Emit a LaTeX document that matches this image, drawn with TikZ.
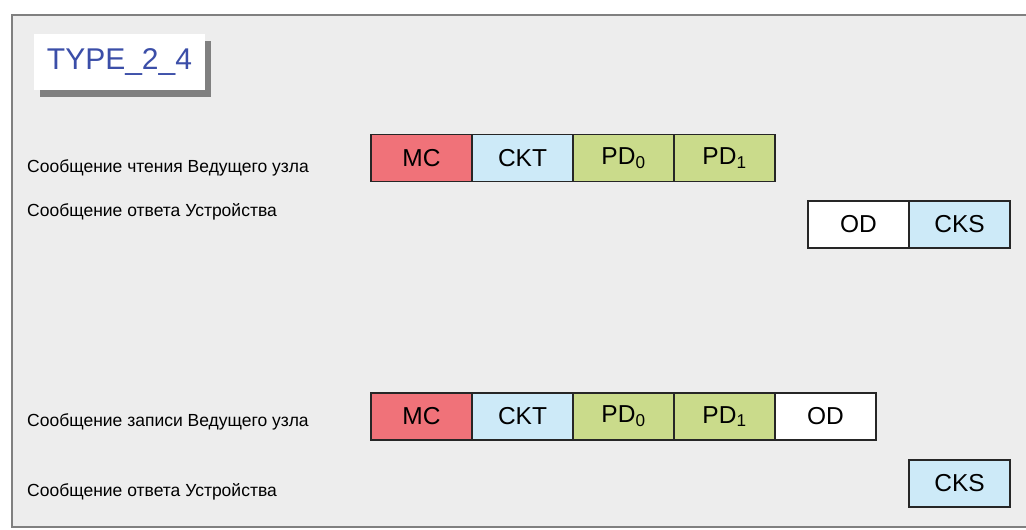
\documentclass[tikz,border=0pt]{standalone}
\usepackage{fontspec}
\setmainfont{Liberation Sans}
\usepackage{xcolor}
\usetikzlibrary{positioning,shadows}
\definecolor{mcred}{HTML}{F07279}
\definecolor{ckblue}{HTML}{CDEAF8}
\definecolor{pdgreen}{HTML}{CADB8B}
\definecolor{framebg}{HTML}{EDEDED}
\definecolor{ttlblue}{HTML}{3B4EA8}
\tikzset{
  fld/.style={draw=black!85,line width=1.4pt,outer sep=0pt,minimum width=101pt,minimum height=47pt,inner sep=0pt,font=\fontsize{24.5}{24.5}\selectfont},
  lbl/.style={anchor=base west,inner sep=0pt,font=\fontsize{17.5}{17.5}\selectfont},
  ttl/.style={fill=white,minimum width=171pt,minimum height=56pt,inner sep=0pt,text=ttlblue,font=\fontsize{30}{30}\selectfont,
    drop shadow={shadow xshift=6pt,shadow yshift=-7pt,fill=black!50,opacity=1}}
}
\begin{document}
\begin{tikzpicture}[x=1pt,y=-1pt]
\useasboundingbox (0,0) rectangle (1026,530);
\draw[black!50,line width=1.2pt,fill=framebg] (12,15) rectangle (1040,527);
\node[ttl] (title) at (119.5,62) {TYPE\_2\_4};
% read request
\node[lbl] (l1) at (27,172) {Сообщение чтения Ведущего узла};
\node[fld,fill=mcred,anchor=west] (r1mc) at (371,158) {MC};
\node[fld,fill=ckblue,right=0pt of r1mc] (r1ckt) {CKT};
\node[fld,fill=pdgreen,right=0pt of r1ckt] (r1pd0) {PD\textsubscript{0}};
\node[fld,fill=pdgreen,right=0pt of r1pd0] (r1pd1) {PD\textsubscript{1}};
% read reply
\node[lbl] (l2) at (27,216) {Сообщение ответа Устройства};
\node[fld,fill=white,anchor=west] (r2od) at (808,224.5) {OD};
\node[fld,fill=ckblue,right=0pt of r2od] (r2cks) {CKS};
% write request
\node[lbl] (l3) at (27,426) {Сообщение записи Ведущего узла};
\node[fld,fill=mcred,anchor=west] (r3mc) at (371,416.5) {MC};
\node[fld,fill=ckblue,right=0pt of r3mc] (r3ckt) {CKT};
\node[fld,fill=pdgreen,right=0pt of r3ckt] (r3pd0) {PD\textsubscript{0}};
\node[fld,fill=pdgreen,right=0pt of r3pd0] (r3pd1) {PD\textsubscript{1}};
\node[fld,fill=white,right=0pt of r3pd1] (r3od) {OD};
% write reply
\node[lbl] (l4) at (27,496) {Сообщение ответа Устройства};
\node[fld,fill=ckblue,anchor=west] (r4cks) at (909,483.5) {CKS};
\end{tikzpicture}
\end{document}
